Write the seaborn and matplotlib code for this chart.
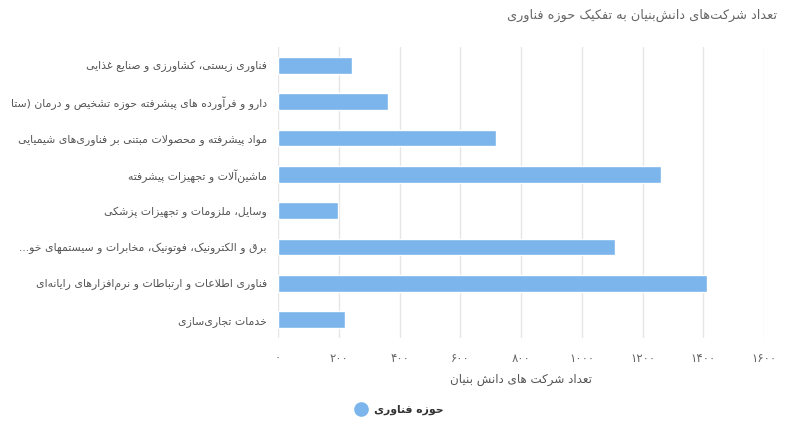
import matplotlib
matplotlib.use("Agg")
import matplotlib.pyplot as plt
from matplotlib.lines import Line2D
import seaborn as sns
import pandas as pd

# ---------------- data ----------------
categories = [
    "فناوری زیستی، کشاورزی و صنایع غذایی",
    "دارو و فرآورده های پیشرفته حوزه تشخیص و درمان (ستا",
    "مواد پیشرفته و محصولات مبتنی بر فناوری‌های شیمیایی",
    "ماشین‌آلات و تجهیزات پیشرفته",
    "وسایل، ملزومات و تجهیزات پزشکی",
    "برق و الکترونیک، فوتونیک، مخابرات و سیستمهای خو...",
    "فناوری اطلاعات و ارتباطات و نرم‌افزارهای رایانه‌ای",
    "خدمات تجاری‌سازی",
]
values = [244, 362, 718, 1262, 198, 1108, 1412, 221]
x_ticks = [0, 200, 400, 600, 800, 1000, 1200, 1400, 1600]
x_tick_labels = ["۰", "۲۰۰", "۴۰۰", "۶۰۰", "۸۰۰", "۱۰۰۰", "۱۲۰۰", "۱۴۰۰", "۱۶۰۰"]
title = "تعداد شرکت‌های دانش‌بنیان به تفکیک حوزه فناوری"
x_label = "تعداد شرکت های دانش بنیان"
series_name = "حوزه فناوری"

# ---------------- minimal Persian shaping + RTL ----------------
FORMS = {
    "ا": (0xFE8D, 0xFE8E), "آ": (0xFE81, 0xFE82), "د": (0xFEA9, 0xFEAA),
    "ذ": (0xFEAB, 0xFEAC), "ر": (0xFEAD, 0xFEAE), "ز": (0xFEAF, 0xFEB0),
    "و": (0xFEED, 0xFEEE), "ژ": (0xFB8A, 0xFB8B),
    "ب": (0xFE8F, 0xFE90, 0xFE91, 0xFE92), "ت": (0xFE95, 0xFE96, 0xFE97, 0xFE98),
    "ث": (0xFE99, 0xFE9A, 0xFE9B, 0xFE9C), "ج": (0xFE9D, 0xFE9E, 0xFE9F, 0xFEA0),
    "ح": (0xFEA1, 0xFEA2, 0xFEA3, 0xFEA4), "خ": (0xFEA5, 0xFEA6, 0xFEA7, 0xFEA8),
    "س": (0xFEB1, 0xFEB2, 0xFEB3, 0xFEB4), "ش": (0xFEB5, 0xFEB6, 0xFEB7, 0xFEB8),
    "ص": (0xFEB9, 0xFEBA, 0xFEBB, 0xFEBC), "ض": (0xFEBD, 0xFEBE, 0xFEBF, 0xFEC0),
    "ط": (0xFEC1, 0xFEC2, 0xFEC3, 0xFEC4), "ظ": (0xFEC5, 0xFEC6, 0xFEC7, 0xFEC8),
    "ع": (0xFEC9, 0xFECA, 0xFECB, 0xFECC), "غ": (0xFECD, 0xFECE, 0xFECF, 0xFED0),
    "ف": (0xFED1, 0xFED2, 0xFED3, 0xFED4), "ق": (0xFED5, 0xFED6, 0xFED7, 0xFED8),
    "ل": (0xFEDD, 0xFEDE, 0xFEDF, 0xFEE0), "م": (0xFEE1, 0xFEE2, 0xFEE3, 0xFEE4),
    "ن": (0xFEE5, 0xFEE6, 0xFEE7, 0xFEE8), "ه": (0xFEE9, 0xFEEA, 0xFEEB, 0xFEEC),
    "پ": (0xFB56, 0xFB57, 0xFB58, 0xFB59), "چ": (0xFB7A, 0xFB7B, 0xFB7C, 0xFB7D),
    "ک": (0xFB8E, 0xFB8F, 0xFB90, 0xFB91), "گ": (0xFB92, 0xFB93, 0xFB94, 0xFB95),
    "ی": (0xFBFC, 0xFBFD, 0xFBFE, 0xFBFF), "ئ": (0xFE89, 0xFE8A, 0xFE8B, 0xFE8C),
}
LAM_ALEF = {"ا": (0xFEFB, 0xFEFC), "آ": (0xFEF5, 0xFEF6)}


def dual(c):
    return c in FORMS and len(FORMS[c]) == 4


def joins(c):
    return c in FORMS


def shape(text):
    chars = list(text)
    out = []
    i = 0
    n = len(chars)
    while i < n:
        c = chars[i]
        if c not in FORMS:
            if c != "\u200c":
                out.append(c)
            i += 1
            continue
        prev = chars[i - 1] if i > 0 else ""
        con_prev = dual(prev)
        if c == "ل" and i + 1 < n and chars[i + 1] in LAM_ALEF:
            f = LAM_ALEF[chars[i + 1]]
            out.append(chr(f[1] if con_prev else f[0]))
            i += 2
            continue
        nxt = chars[i + 1] if i + 1 < n else ""
        con_next = dual(c) and joins(nxt)
        f = FORMS[c]
        if con_prev and con_next:
            out.append(chr(f[3]))
        elif con_prev:
            out.append(chr(f[1]))
        elif con_next:
            out.append(chr(f[2]))
        else:
            out.append(chr(f[0]))
        i += 1
    s = "".join(out)
    mirror = {"(": ")", ")": "("}
    return "".join(mirror.get(ch, ch) for ch in reversed(s))


# ---------------- plot ----------------
sns.set_theme(style="white")
plt.rcParams["font.family"] = ["DejaVu Sans"]

df = pd.DataFrame({"category": categories, "value": values})

fig = plt.figure(figsize=(7.86, 4.26), dpi=100)
ax = fig.add_axes([278 / 786, 1 - 338 / 426, (764 - 278) / 786, (338 - 47) / 426])

sns.barplot(data=df, x="value", y="category", orient="h", color="#7cb5ec",
            width=0.46, saturation=1, ax=ax, zorder=3)

ax.set_xlim(0, 1600)
ax.set_ylim(7.5, -0.5)
ax.set_xticks(x_ticks)
ax.set_xticklabels(x_tick_labels, fontsize=8.5, color="#666666")
ax.set_yticks(range(len(categories)))
ax.set_yticklabels([shape(c) for c in categories], fontsize=7.8, color="#555555")
ax.tick_params(axis="y", length=0, pad=8)
ax.tick_params(axis="x", length=0, pad=10)
ax.grid(axis="x", color="#e6e6e6", linewidth=1, zorder=0)
ax.grid(axis="y", visible=False)
for sp in ax.spines.values():
    sp.set_visible(False)
ax.set_ylabel("")
ax.set_xlabel(shape(x_label), fontsize=8.6, color="#555555", labelpad=6)

fig.text(777 / 786, 1 - 15 / 426, shape(title), ha="right", va="center",
         fontsize=9.3, color="#666666")

handle = Line2D([], [], marker="o", linestyle="", color="#7cb5ec", markersize=9.5)
fig.legend(handles=[handle], labels=[shape(series_name)], loc="center",
           bbox_to_anchor=(397 / 786, 1 - 410 / 426), frameon=False,
           handletextpad=0.2, prop={"size": 7.8, "weight": "bold"},
           labelcolor="#333333")

fig.savefig("out.png", dpi=100)
